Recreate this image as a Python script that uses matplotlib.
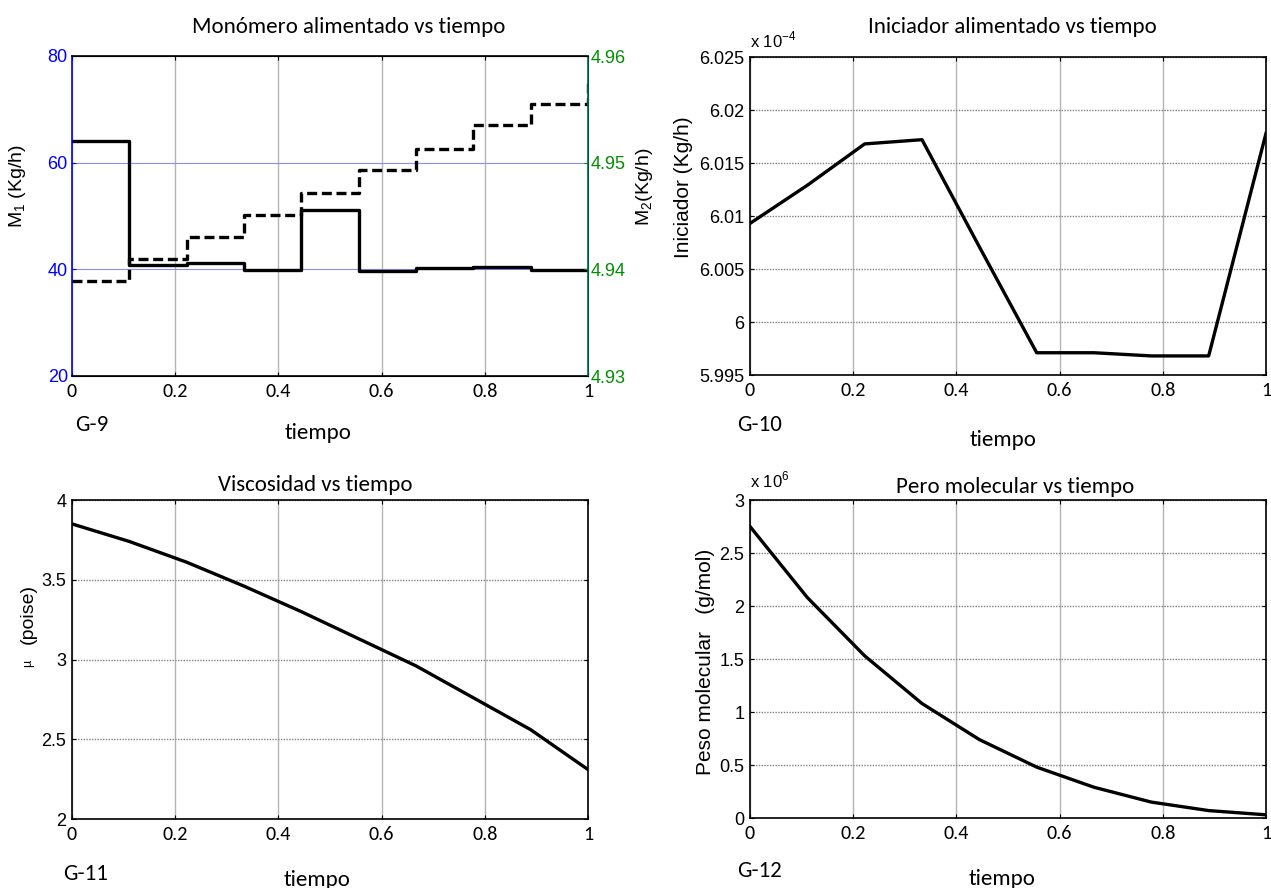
import matplotlib.pyplot as plt

# time grid (9 intervals)
tiempo = [0, 0.1111, 0.2222, 0.3333, 0.4444, 0.5556, 0.6667, 0.7778, 0.8889, 1.0]

# G-9: monomer feeds (step profiles)
m1 = [64.0, 40.8, 41.1, 39.9, 51.1, 39.7, 40.3, 40.5, 39.8, 39.8]
m2 = [4.9389, 4.9410, 4.9430, 4.9451, 4.9472, 4.9493, 4.9513, 4.9535, 4.9555, 4.9576]

# G-10: initiator (x 1e-4)
iniciador = [6.0093, 6.0129, 6.0168, 6.0172, 6.0071, 5.9971, 5.9971, 5.9968, 5.9968, 6.0178]

# G-11: viscosity
viscosidad = [3.85, 3.74, 3.61, 3.46, 3.30, 3.13, 2.96, 2.76, 2.56, 2.31]

# G-12: molecular weight (x 1e6)
peso_mol = [2.75, 2.08, 1.53, 1.08, 0.74, 0.48, 0.29, 0.15, 0.07, 0.03]

xticks = [0, 0.2, 0.4, 0.6, 0.8, 1]
xticklabels = ['0', '0.2', '0.4', '0.6', '0.8', '1']

ARIAL = ['Liberation Sans', 'DejaVu Sans']
CAL = ['Carlito', 'Lato', 'DejaVu Sans']

plt.rcParams['font.family'] = ARIAL
plt.rcParams['mathtext.fontset'] = 'custom'
plt.rcParams['mathtext.rm'] = 'Liberation Sans'

fig = plt.figure(figsize=(12.71, 8.88), dpi=100)
W, H = 1271.0, 888.0


def box(l, t, r, b):
    return [l / W, 1 - b / H, (r - l) / W, (b - t) / H]


def ftext(x, y, s, ha='left'):
    fig.text(x / W, 1 - y / H, s, family=CAL, fontsize=16.5, ha=ha, va='center')


def style(ax, yt, ytl):
    ax.set_xlim(0, 1)
    ax.set_xticks(xticks)
    ax.set_xticklabels(xticklabels, family=CAL, fontsize=14.5)
    ax.set_yticks(yt)
    ax.set_yticklabels(ytl, fontsize=13)
    ax.tick_params(direction='in', length=3, top=True, right=True)
    ax.tick_params(axis='x', pad=5)
    ax.tick_params(axis='y', pad=4)
    ax.xaxis.grid(True, color='#b4b4b4', lw=1.0, ls='-')
    ax.yaxis.grid(True, color='#808080', lw=1.0, ls=(0, (1, 1)))
    for s in ax.spines.values():
        s.set_linewidth(1.2)
    ax.set_axisbelow(True)


# ---- G-9 ----
ax1 = fig.add_axes(box(72, 56, 588, 376))
ax1.plot(tiempo, m1, drawstyle='steps-post', color='black', lw=2.4)
ax1.set_ylim(20, 80)
ax1.set_xlim(0, 1)
ax1.set_yticks([20, 40, 60, 80])
ax1.set_yticklabels(['20', '40', '60', '80'], fontsize=13, color='blue')
ax1.set_xticks(xticks)
ax1.set_xticklabels(xticklabels, family=CAL, fontsize=14.5)
ax1.tick_params(axis='y', colors='blue', direction='in', length=3, pad=3)
ax1.tick_params(axis='x', direction='in', length=3, top=True, pad=5)
ax1.xaxis.grid(True, color='#b4b4b4', lw=1.0)
ax1.yaxis.grid(True, color='#8c8cff', lw=0.8)
ax1.spines['left'].set_color('blue')
ax1.spines['left'].set_linewidth(1.2)
ax1.spines['top'].set_linewidth(1.2)
ax1.spines['bottom'].set_linewidth(1.2)
ax1.set_ylabel(r'M$_1$ (Kg/h)', fontsize=14)
ax1.yaxis.set_label_coords(-0.085, 0.595)

ax2 = ax1.twinx()
ax2.plot(tiempo, m2, drawstyle='steps-post', color='black', lw=2.4, ls=(0, (3, 1.4)))
ax2.set_ylim(4.93, 4.96)
ax2.set_yticks([4.93, 4.94, 4.95, 4.96])
ax2.set_yticklabels(['4.93', '4.94', '4.95', '4.96'], fontsize=13, color='#009000')
ax2.tick_params(axis='y', colors='#009000', direction='in', length=3, pad=2)
ax2.spines['right'].set_color('#006a4e')
ax2.spines['right'].set_linewidth(1.2)
ax2.spines['left'].set_visible(False)
ax2.set_ylabel(r'M$_2$(Kg/h)', fontsize=14)
ax2.yaxis.set_label_coords(1.089, 0.59)

ftext(349, 27, 'Monómero alimentado vs tiempo', ha='center')
ftext(75, 425, 'G-9')
ftext(318, 433, 'tiempo', ha='center')

# ---- G-10 ----
ax3 = fig.add_axes(box(750, 57, 1266, 375))
ax3.plot(tiempo, iniciador, color='black', lw=2.4)
ax3.set_ylim(5.995, 6.025)
style(ax3, [5.995, 6.0, 6.005, 6.01, 6.015, 6.02, 6.025],
      ['5.995', '6', '6.005', '6.01', '6.015', '6.02', '6.025'])
ax3.set_ylabel('Iniciador (Kg/h)', fontsize=15)
ax3.yaxis.set_label_coords(-0.110, 0.59)
ax3.text(0.0, 1.02, r'x 10$^{-4}$', transform=ax3.transAxes, fontsize=12, va='bottom')
ftext(1012, 27, 'Iniciador alimentado vs tiempo', ha='center')
ftext(737, 425, 'G-10')
ftext(1003, 440, 'tiempo', ha='center')

# ---- G-11 ----
ax4 = fig.add_axes(box(72, 500, 588, 819))
ax4.plot(tiempo, viscosidad, color='black', lw=2.4)
ax4.set_ylim(2, 4)
style(ax4, [2, 2.5, 3, 3.5, 4], ['2', '2.5', '3', '3.5', '4'])
ax4.set_ylabel('(poise)', fontsize=14)
ax4.yaxis.set_label_coords(-0.068, 0.643)
ax4.text(-0.085, 0.489, 'µ', transform=ax4.transAxes, rotation=90, fontsize=9,
         ha='center', va='center')
ftext(315, 485, 'Viscosidad vs tiempo', ha='center')
ftext(63, 874, 'G-11')
ftext(317, 880, 'tiempo', ha='center')

# ---- G-12 ----
ax5 = fig.add_axes(box(750, 500, 1266, 818))
ax5.plot(tiempo, peso_mol, color='black', lw=2.4)
ax5.set_ylim(0, 3)
style(ax5, [0, 0.5, 1, 1.5, 2, 2.5, 3], ['0', '0.5', '1', '1.5', '2', '2.5', '3'])
ax5.set_ylabel('Peso molecular   (g/mol)', fontsize=15)
ax5.yaxis.set_label_coords(-0.068, 0.49)
ax5.text(0.0, 1.03, r'x 10$^{6}$', transform=ax5.transAxes, fontsize=12, va='bottom')
ftext(1015, 487, 'Pero molecular vs tiempo', ha='center')
ftext(737, 871, 'G-12')
ftext(1002, 879, 'tiempo', ha='center')

fig.savefig('out.png', dpi=100)
